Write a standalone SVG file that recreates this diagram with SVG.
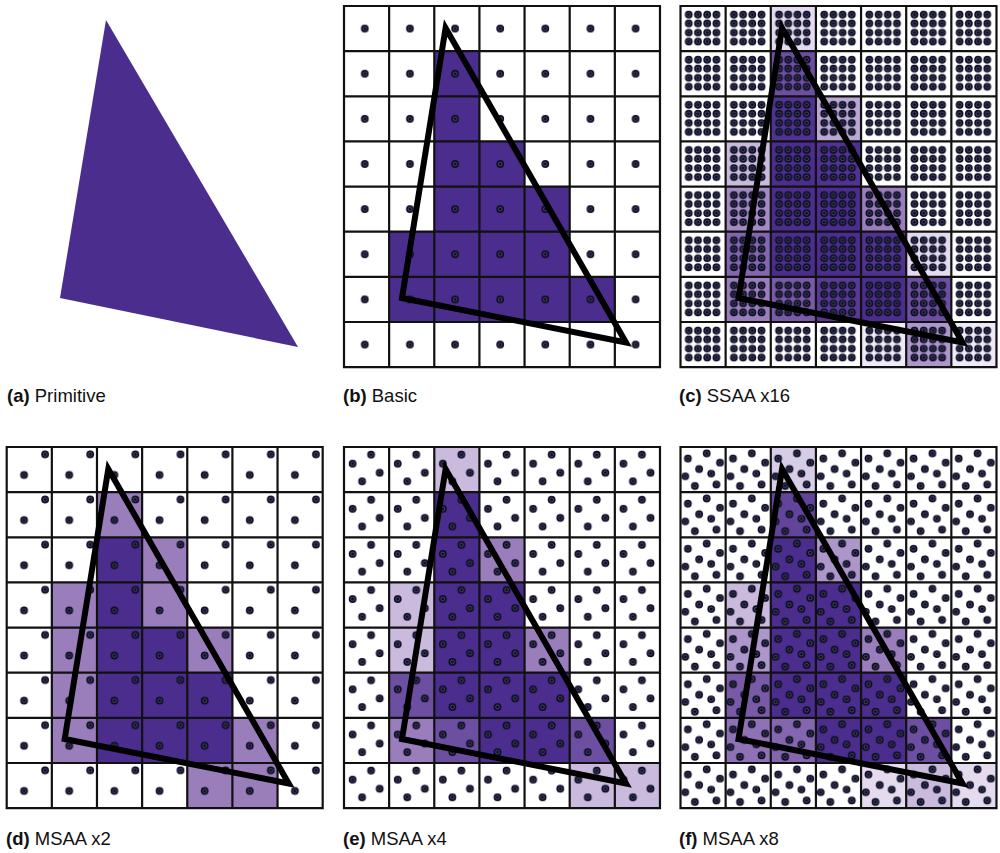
<svg xmlns="http://www.w3.org/2000/svg" xmlns:xlink="http://www.w3.org/1999/xlink" width="1000" height="853" viewBox="0 0 1000 853">
<style>
.lb{font-family:"Liberation Sans",Arial,sans-serif;font-size:18.5px;fill:#111}
.lb tspan.b{font-weight:bold}
.k1{fill:#efeaf5}.k2{fill:#e4dcee}.k3{fill:#d8cde7}.k4{fill:#cabadd}.k5{fill:#bba7d3}.k6{fill:#ad96ca}.k7{fill:#a48ac3}.k8{fill:#9a7ebb}
.k9{fill:#8f71b5}.k10{fill:#8466ae}.k11{fill:#785aa7}.k12{fill:#6d4fa1}.k13{fill:#62449b}.k14{fill:#583a95}.k15{fill:#503391}.k16{fill:#4a2d8c}
.grid{fill:none;stroke:#111;stroke-width:2.2}
.tri{fill:none;stroke:#000;stroke-width:6;stroke-linejoin:miter;stroke-miterlimit:10}
</style>
<defs>
<g id="dt"><circle r="3.9" fill="#0b0b24"/><circle r="1.9" fill="none" stroke="#5c5c74" stroke-width="0.7"/></g>
<rect id="c" width="45.14" height="45.14"/>
<path id="gr" class="grid" d="M0 0H315.98V361.12H0Z M45.14 0V361.12 M90.28 0V361.12 M135.42 0V361.12 M180.56 0V361.12 M225.7 0V361.12 M270.84 0V361.12 M0 45.14H315.98 M0 90.28H315.98 M0 135.42H315.98 M0 180.56H315.98 M0 225.7H315.98 M0 270.84H315.98 M0 315.98H315.98"/>
<polygon id="tri" class="tri" points="101.6,22 58,292 282,336.5"/>
<pattern id="pb" width="45.14" height="45.14" patternUnits="userSpaceOnUse"><use href="#dt" x="20.8" y="22.6"/></pattern>
<pattern id="pc" width="45.14" height="45.14" patternUnits="userSpaceOnUse">
<use href="#dt" x="8.3" y="8.5"/><use href="#dt" x="17.5" y="8.5"/><use href="#dt" x="26.7" y="8.5"/><use href="#dt" x="35.9" y="8.5"/>
<use href="#dt" x="8.3" y="17.5"/><use href="#dt" x="17.5" y="17.5"/><use href="#dt" x="26.7" y="17.5"/><use href="#dt" x="35.9" y="17.5"/>
<use href="#dt" x="8.3" y="26.6"/><use href="#dt" x="17.5" y="26.6"/><use href="#dt" x="26.7" y="26.6"/><use href="#dt" x="35.9" y="26.6"/>
<use href="#dt" x="8.3" y="35.5"/><use href="#dt" x="17.5" y="35.5"/><use href="#dt" x="26.7" y="35.5"/><use href="#dt" x="35.9" y="35.5"/>
</pattern>
<pattern id="pd" width="45.14" height="45.14" patternUnits="userSpaceOnUse"><use href="#dt" x="17.4" y="28"/><use href="#dt" x="38.4" y="7.3"/></pattern>
<pattern id="pe" width="45.14" height="45.14" patternUnits="userSpaceOnUse"><use href="#dt" x="27.1" y="7.7"/><use href="#dt" x="8.6" y="16.7"/><use href="#dt" x="35.7" y="25.7"/><use href="#dt" x="18.1" y="34.3"/></pattern>
<pattern id="pf" width="45.14" height="45.14" patternUnits="userSpaceOnUse">
<use href="#dt" x="26.2" y="6.3"/><use href="#dt" x="7.4" y="11.5"/><use href="#dt" x="39.5" y="15.6"/><use href="#dt" x="18.7" y="22.1"/>
<use href="#dt" x="30.7" y="26.6"/><use href="#dt" x="4.8" y="29.3"/><use href="#dt" x="14.4" y="39"/><use href="#dt" x="35.9" y="37.5"/>
</pattern>
</defs>
<rect width="1000" height="853" fill="#fff"/>

<g id="panel-a">
<polygon points="106,20 60,298 298,347" fill="#4a2d8c"/>
<text class="lb" x="7" y="402"><tspan class="b">(a)</tspan> Primitive</text>
</g>

<g id="panel-b">
<g transform="translate(344,6)">
<g class="k16">
<use href="#c" x="90.28" y="45.14"/><use href="#c" x="90.28" y="90.28"/>
<use href="#c" x="90.28" y="135.42"/><use href="#c" x="135.42" y="135.42"/>
<use href="#c" x="90.28" y="180.56"/><use href="#c" x="135.42" y="180.56"/><use href="#c" x="180.56" y="180.56"/>
<use href="#c" x="45.14" y="225.7"/><use href="#c" x="90.28" y="225.7"/><use href="#c" x="135.42" y="225.7"/><use href="#c" x="180.56" y="225.7"/>
<use href="#c" x="45.14" y="270.84"/><use href="#c" x="90.28" y="270.84"/><use href="#c" x="135.42" y="270.84"/><use href="#c" x="180.56" y="270.84"/><use href="#c" x="225.7" y="270.84"/>
</g>
<rect width="315.98" height="361.12" fill="url(#pb)"/>
<use href="#gr"/>
<use href="#tri"/>
</g>
<text class="lb" x="343" y="402"><tspan class="b">(b)</tspan> Basic</text>
</g>

<g id="panel-c">
<g transform="translate(680.5,6)">
<use href="#c" class="k2" x="90.28" y="0"/>
<use href="#c" class="k12" x="90.28" y="45.14"/>
<use href="#c" class="k15" x="90.28" y="90.28"/><use href="#c" class="k5" x="135.42" y="90.28"/>
<use href="#c" class="k4" x="45.14" y="135.42"/><use href="#c" class="k16" x="90.28" y="135.42"/><use href="#c" class="k15" x="135.42" y="135.42"/>
<use href="#c" class="k7" x="45.14" y="180.56"/><use href="#c" class="k16" x="90.28" y="180.56"/><use href="#c" class="k16" x="135.42" y="180.56"/><use href="#c" class="k8" x="180.56" y="180.56"/>
<use href="#c" class="k10" x="45.14" y="225.7"/><use href="#c" class="k16" x="90.28" y="225.7"/><use href="#c" class="k16" x="135.42" y="225.7"/><use href="#c" class="k15" x="180.56" y="225.7"/><use href="#c" class="k2" x="225.7" y="225.7"/>
<use href="#c" class="k8" x="45.14" y="270.84"/><use href="#c" class="k11" x="90.28" y="270.84"/><use href="#c" class="k14" x="135.42" y="270.84"/><use href="#c" class="k16" x="180.56" y="270.84"/><use href="#c" class="k12" x="225.7" y="270.84"/>
<use href="#c" class="k1" x="180.56" y="315.98"/><use href="#c" class="k6" x="225.7" y="315.98"/><use href="#c" class="k1" x="270.84" y="315.98"/>
<rect width="315.98" height="361.12" fill="url(#pc)"/>
<use href="#gr"/>
<use href="#tri"/>
</g>
<text class="lb" x="679" y="402"><tspan class="b">(c)</tspan> SSAA x16</text>
</g>

<g id="panel-d">
<g transform="translate(6.7,447)">
<use href="#c" class="k8" x="90.28" y="45.14"/>
<use href="#c" class="k16" x="90.28" y="90.28"/><use href="#c" class="k8" x="135.42" y="90.28"/>
<use href="#c" class="k8" x="45.14" y="135.42"/><use href="#c" class="k16" x="90.28" y="135.42"/><use href="#c" class="k8" x="135.42" y="135.42"/>
<use href="#c" class="k8" x="45.14" y="180.56"/><use href="#c" class="k16" x="90.28" y="180.56"/><use href="#c" class="k16" x="135.42" y="180.56"/><use href="#c" class="k8" x="180.56" y="180.56"/>
<use href="#c" class="k8" x="45.14" y="225.7"/><use href="#c" class="k16" x="90.28" y="225.7"/><use href="#c" class="k16" x="135.42" y="225.7"/><use href="#c" class="k16" x="180.56" y="225.7"/>
<use href="#c" class="k8" x="45.14" y="270.84"/><use href="#c" class="k16" x="90.28" y="270.84"/><use href="#c" class="k16" x="135.42" y="270.84"/><use href="#c" class="k16" x="180.56" y="270.84"/><use href="#c" class="k8" x="225.7" y="270.84"/>
<use href="#c" class="k8" x="180.56" y="315.98"/><use href="#c" class="k8" x="225.7" y="315.98"/>
<rect width="315.98" height="361.12" fill="url(#pd)"/>
<use href="#gr"/>
<use href="#tri"/>
</g>
<text class="lb" x="6" y="845"><tspan class="b">(d)</tspan> MSAA x2</text>
</g>

<g id="panel-e">
<g transform="translate(344,447)">
<use href="#c" class="k4" x="90.28" y="0"/>
<use href="#c" class="k16" x="90.28" y="45.14"/>
<use href="#c" class="k16" x="90.28" y="90.28"/><use href="#c" class="k8" x="135.42" y="90.28"/>
<use href="#c" class="k4" x="45.14" y="135.42"/><use href="#c" class="k16" x="90.28" y="135.42"/><use href="#c" class="k16" x="135.42" y="135.42"/>
<use href="#c" class="k4" x="45.14" y="180.56"/><use href="#c" class="k16" x="90.28" y="180.56"/><use href="#c" class="k16" x="135.42" y="180.56"/><use href="#c" class="k8" x="180.56" y="180.56"/>
<use href="#c" class="k12" x="45.14" y="225.7"/><use href="#c" class="k16" x="90.28" y="225.7"/><use href="#c" class="k16" x="135.42" y="225.7"/><use href="#c" class="k16" x="180.56" y="225.7"/>
<use href="#c" class="k8" x="45.14" y="270.84"/><use href="#c" class="k12" x="90.28" y="270.84"/><use href="#c" class="k16" x="135.42" y="270.84"/><use href="#c" class="k16" x="180.56" y="270.84"/><use href="#c" class="k12" x="225.7" y="270.84"/>
<use href="#c" class="k4" x="225.7" y="315.98"/><use href="#c" class="k4" x="270.84" y="315.98"/>
<rect width="315.98" height="361.12" fill="url(#pe)"/>
<use href="#gr"/>
<use href="#tri"/>
</g>
<text class="lb" x="343" y="845"><tspan class="b">(e)</tspan> MSAA x4</text>
</g>

<g id="panel-f">
<g transform="translate(680.5,447)">
<use href="#c" class="k3" x="90.28" y="0"/>
<use href="#c" class="k13" x="90.28" y="45.14"/>
<use href="#c" class="k16" x="90.28" y="90.28"/><use href="#c" class="k6" x="135.42" y="90.28"/>
<use href="#c" class="k4" x="45.14" y="135.42"/><use href="#c" class="k16" x="90.28" y="135.42"/><use href="#c" class="k16" x="135.42" y="135.42"/>
<use href="#c" class="k6" x="45.14" y="180.56"/><use href="#c" class="k16" x="90.28" y="180.56"/><use href="#c" class="k16" x="135.42" y="180.56"/><use href="#c" class="k8" x="180.56" y="180.56"/>
<use href="#c" class="k11" x="45.14" y="225.7"/><use href="#c" class="k16" x="90.28" y="225.7"/><use href="#c" class="k16" x="135.42" y="225.7"/><use href="#c" class="k16" x="180.56" y="225.7"/>
<use href="#c" class="k9" x="45.14" y="270.84"/><use href="#c" class="k10" x="90.28" y="270.84"/><use href="#c" class="k16" x="135.42" y="270.84"/><use href="#c" class="k16" x="180.56" y="270.84"/><use href="#c" class="k12" x="225.7" y="270.84"/>
<use href="#c" class="k2" x="180.56" y="315.98"/><use href="#c" class="k4" x="225.7" y="315.98"/><use href="#c" class="k2" x="270.84" y="315.98"/>
<rect width="315.98" height="361.12" fill="url(#pf)"/>
<use href="#gr"/>
<use href="#tri"/>
</g>
<text class="lb" x="679" y="845"><tspan class="b">(f)</tspan> MSAA x8</text>
</g>
</svg>
